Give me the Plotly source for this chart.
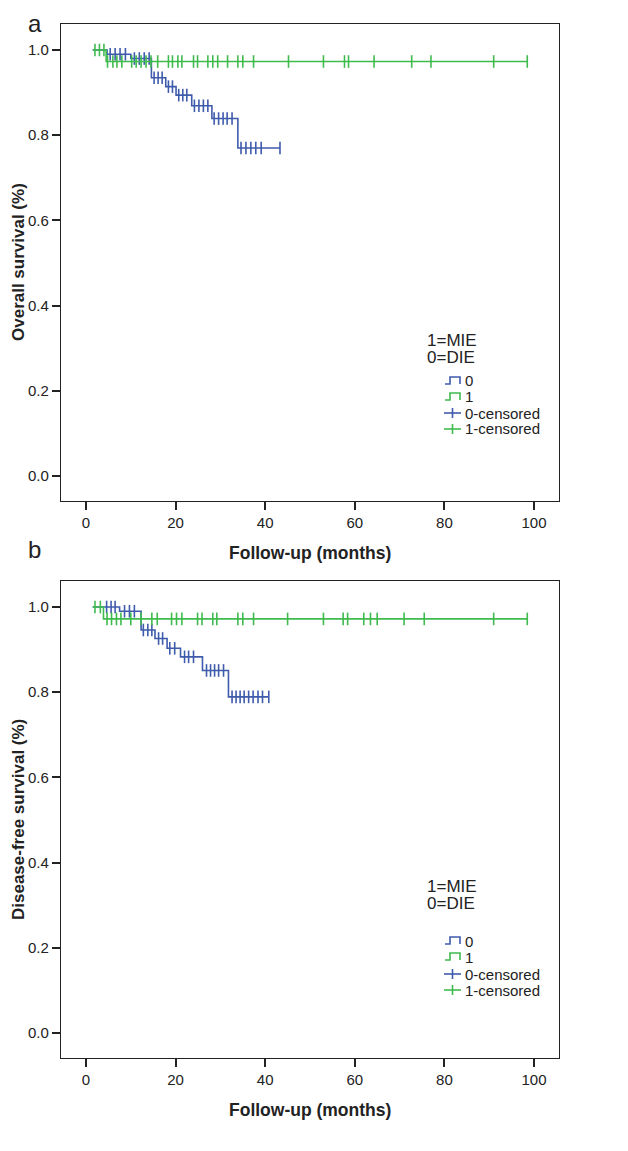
import bisect
import plotly.graph_objects as go

# ---------------- data ----------------
x_ticks = [0, 20, 40, 60, 80, 100]
y_ticks = [0.0, 0.2, 0.4, 0.6, 0.8, 1.0]

# Panel a: overall survival  (0 = DIE, 1 = MIE)
a_die_start = 1.5
a_die_event_times = [4.7, 10.0, 14.6, 17.8, 20.1, 23.6, 28.1, 33.9]
a_die_surv = [0.990, 0.980, 0.935, 0.914, 0.894, 0.869, 0.839, 0.770]
a_die_censored = [5.4, 6.5, 7.6, 8.8, 10.8, 11.9, 13.0, 14.1, 15.2, 16.1, 17.0,
                  18.4, 19.3, 20.7, 21.6, 22.5, 24.2, 25.2, 26.2, 27.2,
                  28.6, 29.6, 30.6, 31.5, 32.6, 34.6, 35.7, 36.8, 37.9, 39.1, 43.3]
a_mie_start = 1.5
a_mie_event_times = [4.5]
a_mie_surv = [0.973]
a_mie_censored = [2.0, 3.0, 4.0, 4.8, 6.0, 6.9, 8.0, 10.2, 11.2, 12.3, 13.4, 14.5,
                  16.0, 18.4, 19.3, 20.5, 21.4, 24.0, 24.9, 27.2, 28.3, 29.4,
                  31.6, 33.9, 35.0, 37.4, 45.2, 53.0, 57.7, 58.6, 64.3, 72.7,
                  77.0, 91.0, 98.5]

# Panel b: disease-free survival
b_die_start = 1.5
b_die_event_times = [7.5, 12.3, 15.4, 18.1, 21.1, 26.0, 31.8]
b_die_surv = [0.990, 0.946, 0.926, 0.903, 0.883, 0.851, 0.789]
b_die_censored = [4.6, 5.6, 6.5, 8.6, 9.7, 10.8, 12.8, 13.8, 14.7, 16.2, 17.1,
                  18.7, 19.8, 22.0, 22.9, 24.0, 26.9, 27.8, 28.7, 29.6, 30.7,
                  32.6, 33.5, 34.4, 35.3, 36.3, 37.3, 38.4, 39.4, 40.8]
b_mie_start = 1.5
b_mie_event_times = [3.9]
b_mie_surv = [0.972]
b_mie_censored = [2.0, 3.2, 4.7, 5.7, 6.8, 7.8, 10.0, 12.3, 14.7, 15.9, 19.1,
                  20.2, 21.4, 24.9, 25.9, 28.3, 29.2, 33.9, 35.0, 37.4, 45.0,
                  53.0, 57.4, 58.4, 62.0, 63.5, 65.0, 71.0, 75.5, 91.0, 98.5]

panel_labels = ["a", "b"]
y_titles = ["Overall survival (%)", "Disease-free survival (%)"]
x_title = "Follow-up (months)"
legend_header = ["1=MIE", "0=DIE"]
legend_items = ["0", "1", "0-censored", "1-censored"]

BLUE = "#3f5bab"
GREEN = "#3fbb4e"
FONT = "Liberation Sans, Arial, sans-serif"
W, H = 628, 1151


def step_value(t, times, surv):
    i = bisect.bisect_right(times, t)
    return 1.0 if i == 0 else surv[i - 1]


def km_line(start, times, surv, cens):
    end = max(cens[-1], times[-1])
    return [start] + times + [end], [1.0] + surv + [surv[-1]]


fig = go.Figure()

panels = [
    ("x", "y",
     (a_die_start, a_die_event_times, a_die_surv, a_die_censored),
     (a_mie_start, a_mie_event_times, a_mie_surv, a_mie_censored)),
    ("x2", "y2",
     (b_die_start, b_die_event_times, b_die_surv, b_die_censored),
     (b_mie_start, b_mie_event_times, b_mie_surv, b_mie_censored)),
]

for xa, ya, die, mie in panels:
    for (start, times, surv, cens), col in [(die, BLUE), (mie, GREEN)]:
        lx, ly = km_line(start, times, surv, cens)
        fig.add_trace(go.Scatter(x=lx, y=ly, mode="lines", line_shape="hv",
                                 line=dict(color=col, width=1.6),
                                 xaxis=xa, yaxis=ya, showlegend=False,
                                 hoverinfo="skip"))
        fig.add_trace(go.Scatter(x=cens, y=[step_value(t, times, surv) for t in cens],
                                 mode="markers",
                                 marker=dict(symbol="line-ns-open", size=9, color=col,
                                             line=dict(color=col, width=1.6)),
                                 xaxis=xa, yaxis=ya, showlegend=False,
                                 hoverinfo="skip"))

# ---------------- layout ----------------
def px_x(p):
    return p / W


def px_y(p):
    return 1 - p / H


frame_left, frame_right = 53, 551
panel_top = [16, 573]
panel_bot = [493, 1050]

axis_common = dict(showline=True, mirror=True, linecolor="#222", linewidth=1.4,
                   ticks="outside", ticklen=8, tickwidth=1.5, tickcolor="#222",
                   showgrid=False, zeroline=False,
                   tickfont=dict(family=FONT, size=15, color="#222"))

layout = dict(width=W, height=H, margin=dict(l=0, r=0, t=0, b=0),
              paper_bgcolor="white", plot_bgcolor="white", showlegend=False)

for k in range(2):
    sx = "" if k == 0 else "2"
    layout["xaxis" + sx] = dict(axis_common, domain=[px_x(frame_left), px_x(frame_right)],
                                range=[-5.58, 105.58], tickvals=x_ticks,
                                anchor="y" + sx)
    layout["yaxis" + sx] = dict(axis_common,
                                domain=[px_y(panel_bot[k]), px_y(panel_top[k])],
                                range=[-0.0587, 1.061], tickvals=y_ticks,
                                tickformat=".1f", anchor="x" + sx)

fig.update_layout(**layout)

annotations = []
shapes = []
x_title_y = [545, 1102]
legend_ys = [[332, 350, 373, 389, 405, 421], [878, 895, 933, 949, 966, 982]]

# panel letters
annotations.append(dict(text=panel_labels[0], x=px_x(18), y=1.0,
                        xref="paper", yref="paper", xanchor="left", yanchor="top",
                        showarrow=False, font=dict(family=FONT, size=24, color="#222")))
annotations.append(dict(text=panel_labels[1], x=px_x(18), y=px_y(541),
                        xref="paper", yref="paper", xanchor="left", yanchor="middle",
                        showarrow=False, font=dict(family=FONT, size=24, color="#222")))

for k in range(2):
    annotations.append(dict(text=y_titles[k], x=px_x(10.5),
                            y=px_y((panel_top[k] + panel_bot[k]) / 2),
                            xref="paper", yref="paper", xanchor="center", yanchor="middle",
                            textangle=-90, showarrow=False,
                            font=dict(family=FONT, size=17, color="#222", weight="bold")))
    annotations.append(dict(text=x_title, x=px_x((frame_left + frame_right) / 2),
                            y=px_y(x_title_y[k]),
                            xref="paper", yref="paper", xanchor="center", yanchor="middle",
                            showarrow=False,
                            font=dict(family=FONT, size=17.5, color="#222", weight="bold")))
    ly = legend_ys[k]
    for j, txt in enumerate(legend_header):
        annotations.append(dict(text=txt, x=px_x(417), y=px_y(ly[j]),
                                xref="paper", yref="paper", xanchor="left", yanchor="middle",
                                showarrow=False,
                                font=dict(family=FONT, size=17, color="#222")))
    cols = [BLUE, GREEN, BLUE, GREEN]
    for j, txt in enumerate(legend_items):
        yy = ly[2 + j]
        annotations.append(dict(text=txt, x=px_x(455), y=px_y(yy),
                                xref="paper", yref="paper", xanchor="left", yanchor="middle",
                                showarrow=False,
                                font=dict(family=FONT, size=15, color="#222")))
        if j < 2:
            pts = [(437, yy + 3), (442, yy + 3), (442, yy - 4), (452, yy - 4), (452, yy + 3)]
            path = "M " + " L ".join(f"{px_x(a)},{px_y(b)}" for a, b in pts)
            shapes.append(dict(type="path", path=path, xref="paper", yref="paper",
                               line=dict(color=cols[j], width=1.6)))
        else:
            shapes.append(dict(type="line", x0=px_x(436), x1=px_x(453), y0=px_y(yy), y1=px_y(yy),
                               xref="paper", yref="paper", line=dict(color=cols[j], width=1.6)))
            shapes.append(dict(type="line", x0=px_x(444.5), x1=px_x(444.5), y0=px_y(yy - 5),
                               y1=px_y(yy + 5), xref="paper", yref="paper",
                               line=dict(color=cols[j], width=1.6)))

fig.update_layout(annotations=annotations, shapes=shapes)
fig.write_html("out.html")
